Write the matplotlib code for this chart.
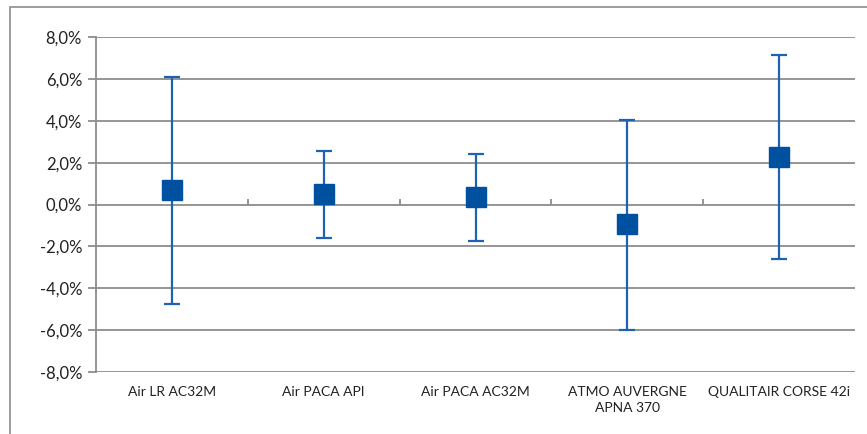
import matplotlib.pyplot as plt
import matplotlib.patches as mpatches
import numpy as np

plt.rcParams['font.family'] = ['Lato', 'DejaVu Sans']

# donnees (en %)
categories = ['Air LR AC32M', 'Air PACA API', 'Air PACA AC32M',
              'ATMO AUVERGNE\nAPNA 370', 'QUALITAIR CORSE 42i']
ecart = [0.69, 0.50, 0.36, -0.93, 2.27]
borne_haute = [6.09, 2.55, 2.41, 4.04, 7.14]
borne_basse = [-4.75, -1.60, -1.74, -6.00, -2.60]
yticks = [-8, -6, -4, -2, 0, 2, 4, 6, 8]

x = np.arange(len(categories))
ecart = np.array(ecart)
err = [ecart - np.array(borne_basse), np.array(borne_haute) - ecart]

fig = plt.figure(figsize=(8.67, 4.34), dpi=100)
ax = fig.add_axes([0.1107, 0.1429, 0.8755, 0.7718])

# cadre autour du graphique
fig.patches.append(mpatches.Rectangle((0.0115, -0.05), 1.05, 1.034, transform=fig.transFigure,
                                      fill=False, edgecolor='#8c8c8c', linewidth=1.2))

grid_col = '#8c8c8c'
for yv in yticks:
    ax.axhline(yv, color=grid_col, linewidth=1.3, zorder=0)

ax.errorbar(x, ecart, yerr=err, fmt='s', color='#0050a0', ecolor='#1f62b3',
            markersize=14, elinewidth=1.6, capsize=6, capthick=1.6, zorder=3)

ax.set_xlim(-0.5, len(categories) - 0.5)
ax.set_ylim(-8, 8)
ax.set_yticks(yticks)
ax.set_yticklabels([f'{v:.1f}%'.replace('.', ',') for v in yticks], fontsize=12, color='#222222')
ax.set_xticks(x)
ax.set_xticklabels(categories, fontsize=10, va='top', linespacing=1.4, color='#222222')
ax.tick_params(axis='x', length=0, pad=10)
ax.tick_params(axis='y', length=6, color=grid_col, width=1.3, pad=4)

for s in ['top', 'right', 'bottom']:
    ax.spines[s].set_visible(False)
ax.spines['left'].set_color(grid_col)
ax.spines['left'].set_linewidth(1.3)

# graduations de categories sur l'axe zero
sec = ax.secondary_xaxis(0.5)
sec.set_xticks(x[:-1] + 0.5)
sec.set_xticklabels([])
sec.tick_params(length=4, color=grid_col, width=1.3, direction='out')
for sp in sec.spines.values():
    sp.set_visible(False)

fig.savefig('out.png', dpi=100)
